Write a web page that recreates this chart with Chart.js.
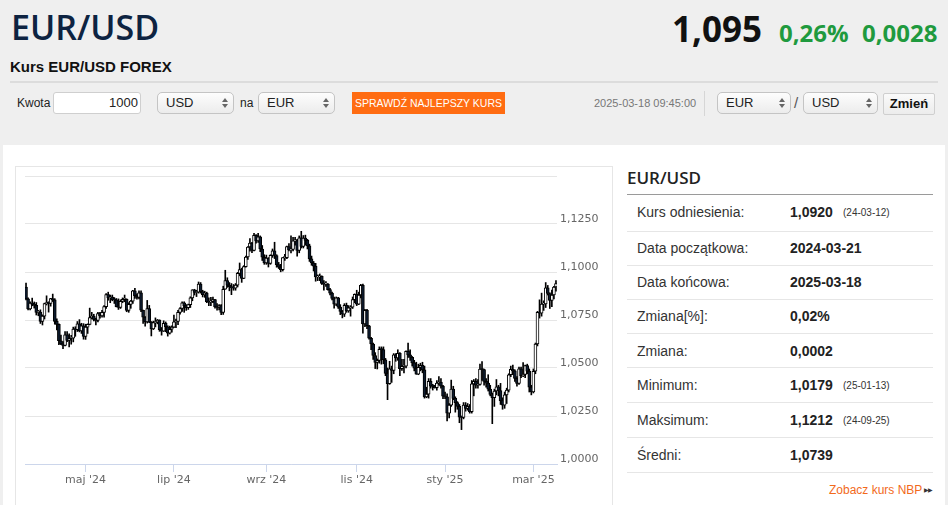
<!DOCTYPE html>
<html lang="pl">
<head>
<meta charset="utf-8">
<title>Kurs EUR/USD FOREX</title>
<script src="https://cdn.jsdelivr.net/npm/chart.js@4.4.1/dist/chart.umd.min.js"></script>
<style>
  html, body { margin: 0; padding: 0; }
  body { width: 948px; height: 505px; overflow: hidden; background: #efefef; position: relative;
         font-family: "Liberation Sans", Arial, sans-serif; color: #222; }
  .abs { position: absolute; white-space: nowrap; }
  #title { left: 11px; top: 4px; font: 600 34px/46px "Open Sans", sans-serif; color: #0d2341; }
  #subtitle { left: 10px; top: 58px; font: bold 15px/18px "Liberation Sans", Arial, sans-serif; color: #111; }
  #sep { left: 10px; top: 81px; width: 928px; height: 2px; background: #dcdcdc; }
  #price { left: 672px; top: 6px; font: bold 35px/46px "Open Sans", sans-serif; color: #111; }
  .chg { top: 16px; font: bold 24px/33px "Open Sans", sans-serif; color: #1f9a3e; }
  .lbl { font-size: 12px; line-height: 22px; top: 92px; color: #222; }
  .box { top: 92px; height: 20px; background: #fff; border: 1px solid #cfcfcf; border-radius: 3px;
         font-size: 13px; line-height: 20px; }
  .sel { top: 92px; height: 20px; border: 1px solid #c4c4c4; border-radius: 5px;
         background: linear-gradient(#fdfdfd, #ececec); font-size: 13px; line-height: 20px; }
  .sel span.t { position: absolute; left: 8px; top: 0; }
  .arr { position: absolute; right: 8px; top: 5px; width: 0; height: 0; }
  .arr:before { content: ""; position: absolute; left: -3px; top: 0; border-left: 3px solid transparent;
                border-right: 3px solid transparent; border-bottom: 4px solid #666; }
  .arr:after { content: ""; position: absolute; left: -3px; top: 6px; border-left: 3px solid transparent;
               border-right: 3px solid transparent; border-top: 4px solid #666; }
  #btn { left: 352px; top: 92px; width: 153px; height: 22px; background: #ff6c12; color: #fff;
         font-size: 10.5px; line-height: 22px; text-align: center; }
  #stamp { left: 594px; top: 92px; font-size: 11px; line-height: 22px; color: #777; }
  #vsep { left: 704px; top: 91px; width: 1px; height: 25px; background: #d6d6d6; }
  #zmien { left: 883px; top: 93px; width: 50px; height: 20px; border: 1px solid #cfcfcf; border-radius: 2px;
           background: linear-gradient(#fafafa, #ececec); font: bold 13px/20px "Liberation Sans", Arial, sans-serif;
           text-align: center; color: #111; }
  #panel { left: 3px; top: 145px; width: 942px; height: 370px; background: #fff; }
  #chartBox { left: 15px; top: 166px; width: 596px; height: 360px; border: 1px solid #e6e6e6; }
  #chart { position: absolute; left: 15px; top: 166px; }
  #side h2 { position: absolute; left: 627px; top: 166px; margin: 0; font: 600 17px/24px "Open Sans", sans-serif; color: #222; }
  #sideLine { left: 627px; top: 194px; width: 306px; height: 1px; background: #9a9a9a; }
  .row { left: 627px; width: 306px; height: 1px; background: #e6e6e6; }
  .k { left: 637px; font-size: 14px; line-height: 18px; color: #333; }
  .v { left: 790px; font-size: 14px; line-height: 18px; font-weight: bold; color: #222; }
  .d { left: 843px; font-size: 10px; line-height: 18px; color: #333; }
  #nbp { left: 829px; top: 482px; font-size: 12px; line-height: 16px; color: #f26a1b; }
  #nbpArr { left: 924px; top: 482px; font-size: 6px; line-height: 16px; color: #333; letter-spacing: -1px; }
</style>
</head>
<body>
<div id="title" class="abs">EUR/USD</div>
<div id="subtitle" class="abs">Kurs EUR/USD FOREX</div>
<div id="price" class="abs">1,095</div>
<div class="abs chg" style="left:779px">0,26%</div>
<div class="abs chg" style="left:862px">0,0028</div>
<div id="sep" class="abs"></div>

<div class="abs lbl" style="left:17px">Kwota</div>
<div class="abs box" style="left:53px;width:84px;text-align:right;padding-right:2px">1000</div>
<div class="abs sel" style="left:157px;width:75px"><span class="t">USD</span><span class="arr"></span></div>
<div class="abs lbl" style="left:240px">na</div>
<div class="abs sel" style="left:258px;width:75px"><span class="t">EUR</span><span class="arr"></span></div>
<div id="btn" class="abs">SPRAWDŹ NAJLEPSZY KURS</div>
<div id="stamp" class="abs">2025-03-18 09:45:00</div>
<div id="vsep" class="abs"></div>
<div class="abs sel" style="left:717px;width:72px"><span class="t">EUR</span><span class="arr"></span></div>
<div class="abs lbl" style="left:794px;font-size:15px;color:#555">/</div>
<div class="abs sel" style="left:803px;width:73px"><span class="t">USD</span><span class="arr"></span></div>
<div id="zmien" class="abs">Zmień</div>

<div id="panel" class="abs"></div>
<div id="chartBox" class="abs"></div>
<canvas id="chart" width="597" height="339"></canvas>

<div id="side">
  <h2>EUR/USD</h2>
  <div id="sideLine" class="abs"></div>
  <div class="abs k" style="top:203px">Kurs odniesienia:</div>
  <div class="abs v" style="top:203px">1,0920</div><div class="abs d" style="top:204px">(24-03-12)</div>
  <div class="abs row" style="top:231px"></div>
  <div class="abs k" style="top:239px">Data początkowa:</div>
  <div class="abs v" style="top:239px">2024-03-21</div>
  <div class="abs row" style="top:265px"></div>
  <div class="abs k" style="top:273px">Data końcowa:</div>
  <div class="abs v" style="top:273px">2025-03-18</div>
  <div class="abs row" style="top:299px"></div>
  <div class="abs k" style="top:307px">Zmiana[%]:</div>
  <div class="abs v" style="top:307px">0,02%</div>
  <div class="abs row" style="top:333px"></div>
  <div class="abs k" style="top:342px">Zmiana:</div>
  <div class="abs v" style="top:342px">0,0002</div>
  <div class="abs row" style="top:367px"></div>
  <div class="abs k" style="top:376px">Minimum:</div>
  <div class="abs v" style="top:376px">1,0179</div><div class="abs d" style="top:377px">(25-01-13)</div>
  <div class="abs row" style="top:402px"></div>
  <div class="abs k" style="top:411px">Maksimum:</div>
  <div class="abs v" style="top:411px">1,1212</div><div class="abs d" style="top:412px">(24-09-25)</div>
  <div class="abs row" style="top:437px"></div>
  <div class="abs k" style="top:446px">Średni:</div>
  <div class="abs v" style="top:446px">1,0739</div>
  <div class="abs row" style="top:472px"></div>
  <div id="nbp" class="abs">Zobacz kurs NBP</div>
  <div id="nbpArr" class="abs">▶▶</div>
</div>

<script>
// sesje (dni robocze) od 2024-03-21 do 2025-03-18
const startDate = '2024-03-21';
const endDate = '2025-03-18';

// etykiety osi X
const monthTicks = ['2024-05', '2024-07', '2024-09', '2024-11', '2025-01', '2025-03'];
const monthTickLabels = ["maj '24", "lip '24", "wrz '24", "lis '24", "sty '25", "mar '25"];

// osie Y
const yMin = 1.0, yMax = 1.15, yStep = 0.025;

// świece: otwarcie / maks / min / zamknięcie
const opens = [
  1.0922,1.0860,1.0808,1.0838,1.0831,1.0826,1.0790,
  1.0791,1.0742,1.0770,1.0835,1.0838,1.0837,1.0861,1.0855,1.0743,1.0727,1.0642,1.0625,1.0618,1.0673,1.0643,1.0655,1.0655,1.0703,1.0700,1.0730,1.0693,1.0719,
  1.0665,1.0713,1.0727,1.0762,1.0771,1.0753,1.0748,1.0783,1.0771,1.0790,1.0820,1.0882,1.0866,1.0870,1.0856,1.0855,1.0820,1.0816,1.0847,1.0858,1.0858,1.0800,1.0831,
  1.0848,1.0902,1.0877,1.0868,1.0892,1.0801,1.0765,1.0740,1.0810,1.0739,1.0703,1.0736,1.0740,1.0749,1.0700,1.0692,1.0733,1.0715,1.0682,1.0702,
  1.0713,1.0741,1.0742,1.0790,1.0810,1.0840,1.0825,1.0814,1.0830,1.0865,1.0907,1.0893,1.0895,1.0937,1.0898,1.0882,1.0890,1.0845,1.0843,1.0846,1.0856,1.0818,1.0816,
  1.0825,1.0789,1.0910,1.0955,1.0931,1.0923,1.0919,1.0916,1.0932,1.0993,1.1013,1.0967,1.1028,1.1078,1.1130,1.1151,1.1113,1.1191,1.1162,1.1183,1.1120,1.1077,
  1.1047,1.1072,1.1045,1.1087,1.1110,1.1086,1.1038,1.1025,1.1012,1.1075,1.1075,1.1133,1.1115,1.1117,1.1162,1.1163,1.1112,1.1178,1.1133,1.1177,1.1165,
  1.1136,1.1068,1.1047,1.1031,1.0975,1.0975,1.0978,1.0941,1.0937,1.0937,1.0908,1.0890,1.0862,1.0832,1.0866,1.0817,1.0795,1.0780,1.0827,1.0797,1.0814,1.0817,1.0856,
  1.0884,1.0833,1.0880,1.0930,1.0730,1.0800,1.0720,1.0655,1.0625,1.0565,1.0529,1.0540,1.0597,1.0596,1.0543,1.0472,1.0418,1.0496,1.0487,1.0569,1.0553,
  1.0577,1.0497,1.0509,1.0510,1.0587,1.0568,1.0555,1.0527,1.0499,1.0468,1.0503,1.0514,1.0490,1.0350,1.0364,1.0430,1.0406,1.0404,1.0397,1.0422,1.0427,1.0406,
  1.0353,1.0350,1.0265,1.0307,1.0390,1.0342,1.0320,1.0300,1.0244,1.0243,1.0307,1.0290,1.0300,1.0272,1.0417,1.0430,1.0410,1.0415,1.0495,1.0492,1.0430,1.0421,1.0390,
  1.0362,1.0345,1.0380,1.0402,1.0383,1.0330,1.0306,1.0360,1.0385,1.0465,1.0493,1.0485,1.0446,1.0420,1.0496,1.0460,1.0466,1.0512,1.0484,1.0400,
  1.0376,1.0483,1.0625,1.0790,1.0786,1.0833,1.0834,1.0918,1.0888,1.0852,1.0880,1.0922
];
const highs = [
  1.0942,1.0866,1.0845,1.0864,1.0844,1.0841,1.0800,
  1.0803,1.0777,1.0838,1.0876,1.0845,1.0863,1.0885,1.0861,1.0756,1.0730,1.0672,1.0637,1.0690,1.0690,1.0678,1.0670,1.0713,1.0715,1.0742,1.0752,1.0733,1.0731,
  1.0728,1.0730,1.0812,1.0790,1.0780,1.0760,1.0790,1.0790,1.0800,1.0825,1.0887,1.0895,1.0880,1.0880,1.0867,1.0862,1.0860,1.0855,1.0865,1.0880,1.0860,1.0840,1.0852,
  1.0905,1.0915,1.0886,1.0902,1.0902,1.0802,1.0768,1.0852,1.0826,1.0742,1.0744,1.0761,1.0753,1.0751,1.0711,1.0746,1.0740,1.0720,1.0718,1.0720,
  1.0776,1.0755,1.0801,1.0815,1.0844,1.0845,1.0830,1.0833,1.0871,1.0908,1.0910,1.0905,1.0948,1.0945,1.0905,1.0900,1.0895,1.0865,1.0868,1.0870,1.0858,1.0835,1.0830,
  1.0830,1.0926,1.1009,1.0970,1.0945,1.0940,1.0935,1.0940,1.0998,1.1047,1.1020,1.1033,1.1083,1.1133,1.1174,1.1154,1.1201,1.1195,1.1202,1.1188,1.1138,1.1090,
  1.1088,1.1075,1.1090,1.1120,1.1155,1.1090,1.1050,1.1040,1.1075,1.1092,1.1135,1.1148,1.1189,1.1180,1.1180,1.1170,1.1188,1.1212,1.1190,1.1192,1.1170,
  1.1145,1.1083,1.1055,1.1045,1.0985,1.0990,1.0980,1.0955,1.0950,1.0940,1.0915,1.0895,1.0870,1.0870,1.0868,1.0830,1.0800,1.0835,1.0838,1.0825,1.0825,1.0870,1.0886,
  1.0905,1.0895,1.0936,1.0937,1.0805,1.0805,1.0722,1.0660,1.0630,1.0580,1.0547,1.0610,1.0610,1.0610,1.0550,1.0500,1.0535,1.0510,1.0575,1.0575,1.0595,
  1.0580,1.0545,1.0545,1.0590,1.0630,1.0595,1.0560,1.0540,1.0530,1.0520,1.0525,1.0530,1.0510,1.0400,1.0445,1.0445,1.0415,1.0410,1.0435,1.0455,1.0445,1.0410,
  1.0375,1.0365,1.0315,1.0437,1.0405,1.0350,1.0325,1.0310,1.0250,1.0320,1.0320,1.0315,1.0310,1.0435,1.0440,1.0445,1.0440,1.0520,1.0533,1.0495,1.0445,1.0465,1.0410,
  1.0370,1.0390,1.0440,1.0410,1.0420,1.0345,1.0375,1.0395,1.0470,1.0510,1.0515,1.0490,1.0455,1.0505,1.0505,1.0528,1.0515,1.0520,1.0495,1.0410,
  1.0495,1.0630,1.0795,1.0855,1.0890,1.0850,1.0945,1.0930,1.0892,1.0906,1.0925,1.0955
];
const lows = [
  1.0855,1.0802,1.0803,1.0824,1.0812,1.0776,1.0772,
  1.0732,1.0724,1.0755,1.0828,1.0791,1.0822,1.0846,1.0728,1.0698,1.0622,1.0622,1.0601,1.0615,1.0637,1.0610,1.0624,1.0636,1.0665,1.0690,1.0688,1.0680,1.0650,
  1.0649,1.0680,1.0725,1.0755,1.0745,1.0724,1.0740,1.0760,1.0765,1.0765,1.0810,1.0853,1.0840,1.0850,1.0836,1.0818,1.0805,1.0810,1.0840,1.0845,1.0793,1.0790,1.0811,
  1.0836,1.0863,1.0859,1.0860,1.0794,1.0732,1.0718,1.0734,1.0736,1.0667,1.0700,1.0714,1.0730,1.0691,1.0671,1.0690,1.0689,1.0666,1.0677,1.0686,
  1.0710,1.0710,1.0726,1.0780,1.0795,1.0790,1.0800,1.0805,1.0815,1.0850,1.0880,1.0872,1.0890,1.0890,1.0870,1.0868,1.0840,1.0825,1.0825,1.0840,1.0812,1.0801,1.0802,
  1.0778,1.0779,1.0910,1.0920,1.0902,1.0882,1.0905,1.0905,1.0922,1.0980,1.0946,1.0965,1.1025,1.1065,1.1108,1.1101,1.1110,1.1150,1.1154,1.1106,1.1060,1.1040,
  1.1040,1.1026,1.1040,1.1076,1.1070,1.1025,1.1018,1.1001,1.1005,1.1060,1.1070,1.1110,1.1100,1.1110,1.1140,1.1083,1.1100,1.1125,1.1125,1.1140,1.1120,
  1.1055,1.1035,1.1005,1.0952,1.0955,1.0955,1.0935,1.0905,1.0925,1.0905,1.0880,1.0855,1.0812,1.0825,1.0810,1.0778,1.0761,1.0768,1.0790,1.0790,1.0770,1.0810,1.0840,
  1.0825,1.0830,1.0865,1.0682,1.0715,1.0705,1.0650,1.0595,1.0545,1.0497,1.0495,1.0525,1.0520,1.0522,1.0460,1.0335,1.0415,1.0425,1.0470,1.0535,1.0540,
  1.0460,1.0487,1.0475,1.0500,1.0555,1.0540,1.0510,1.0485,1.0467,1.0465,1.0485,1.0475,1.0343,1.0345,1.0343,1.0395,1.0385,1.0395,1.0385,1.0410,1.0395,1.0340,
  1.0340,1.0224,1.0240,1.0300,1.0335,1.0270,1.0285,1.0215,1.0179,1.0235,1.0275,1.0280,1.0265,1.0265,1.0355,1.0395,1.0395,1.0410,1.0435,1.0410,1.0400,1.0380,1.0355,
  1.0210,1.0300,1.0360,1.0355,1.0310,1.0285,1.0290,1.0315,1.0375,1.0455,1.0465,1.0430,1.0405,1.0415,1.0450,1.0455,1.0450,1.0470,1.0375,1.0360,
  1.0370,1.0470,1.0615,1.0760,1.0770,1.0800,1.0815,1.0880,1.0810,1.0820,1.0860,1.0900
];
const closes = [
  1.0860,1.0808,1.0838,1.0831,1.0826,1.0790,1.0791,
  1.0742,1.0770,1.0835,1.0838,1.0837,1.0861,1.0855,1.0743,1.0727,1.0642,1.0625,1.0618,1.0673,1.0643,1.0655,1.0655,1.0703,1.0700,1.0730,1.0693,1.0719,1.0665,
  1.0713,1.0727,1.0762,1.0771,1.0753,1.0748,1.0783,1.0771,1.0790,1.0820,1.0882,1.0866,1.0870,1.0856,1.0855,1.0820,1.0816,1.0847,1.0858,1.0858,1.0800,1.0831,1.0848,
  1.0902,1.0877,1.0868,1.0892,1.0801,1.0765,1.0740,1.0810,1.0739,1.0703,1.0736,1.0740,1.0749,1.0700,1.0692,1.0733,1.0715,1.0682,1.0702,1.0713,
  1.0741,1.0742,1.0790,1.0810,1.0840,1.0825,1.0814,1.0830,1.0865,1.0907,1.0893,1.0895,1.0937,1.0898,1.0882,1.0890,1.0845,1.0843,1.0846,1.0856,1.0818,1.0816,1.0825,
  1.0789,1.0910,1.0955,1.0931,1.0923,1.0919,1.0916,1.0932,1.0993,1.1013,1.0967,1.1028,1.1078,1.1130,1.1151,1.1113,1.1191,1.1162,1.1183,1.1120,1.1077,1.1047,
  1.1072,1.1045,1.1087,1.1110,1.1086,1.1038,1.1025,1.1012,1.1075,1.1075,1.1133,1.1115,1.1117,1.1162,1.1163,1.1112,1.1178,1.1133,1.1177,1.1165,1.1136,
  1.1068,1.1047,1.1031,1.0975,1.0975,1.0978,1.0941,1.0937,1.0937,1.0908,1.0890,1.0862,1.0832,1.0866,1.0817,1.0795,1.0780,1.0827,1.0797,1.0814,1.0817,1.0856,1.0884,
  1.0833,1.0880,1.0930,1.0730,1.0800,1.0720,1.0655,1.0625,1.0565,1.0529,1.0540,1.0597,1.0596,1.0543,1.0472,1.0418,1.0496,1.0487,1.0569,1.0553,1.0577,
  1.0497,1.0509,1.0510,1.0587,1.0568,1.0555,1.0527,1.0499,1.0468,1.0503,1.0514,1.0490,1.0350,1.0364,1.0430,1.0406,1.0404,1.0397,1.0422,1.0427,1.0406,1.0353,
  1.0350,1.0265,1.0307,1.0390,1.0342,1.0320,1.0300,1.0244,1.0243,1.0307,1.0290,1.0300,1.0272,1.0417,1.0430,1.0410,1.0415,1.0495,1.0492,1.0430,1.0421,1.0390,1.0362,
  1.0345,1.0380,1.0402,1.0383,1.0330,1.0306,1.0360,1.0385,1.0465,1.0493,1.0485,1.0446,1.0420,1.0496,1.0460,1.0466,1.0512,1.0484,1.0400,1.0376,
  1.0483,1.0625,1.0790,1.0786,1.0833,1.0834,1.0918,1.0888,1.0852,1.0880,1.0922,1.0940
];

const upColor = '#ffffff';
const downColor = '#0d1b2e';

// lista dni roboczych = kategorie osi X
const dates = [];
for (let d = new Date(startDate + 'T00:00:00Z'); d <= new Date(endDate + 'T00:00:00Z'); d.setUTCDate(d.getUTCDate() + 1)) {
  const wd = d.getUTCDay();
  if (wd !== 0 && wd !== 6) dates.push(d.toISOString().slice(0, 10));
}
const tickIdx = monthTicks.map(m => dates.findIndex(d => d.startsWith(m)));

const fmt = v => v.toFixed(4).replace('.', ',');

const ctx = document.getElementById('chart').getContext('2d');
new Chart(ctx, {
  type: 'bar',
  data: {
    labels: dates,
    datasets: [
      {
        // korpusy świec
        data: opens.map((o, i) => [o, closes[i]]),
        order: 1,
        grouped: false,
        barThickness: 3,
        borderWidth: 1,
        borderSkipped: false,
        minBarLength: 1,
        borderColor: '#000',
        backgroundColor: c => closes[c.dataIndex] >= opens[c.dataIndex] ? upColor : downColor
      },
      {
        // knoty
        data: lows.map((l, i) => [l, highs[i]]),
        order: 2,
        grouped: false,
        barThickness: 1,
        borderWidth: 0,
        backgroundColor: '#000'
      }
    ]
  },
  options: {
    responsive: false,
    animation: false,
    layout: { padding: { left: 10, top: 10, right: 0, bottom: 0 } },
    plugins: { legend: { display: false }, tooltip: { enabled: false } },
    scales: {
      x: {
        type: 'category',
        offset: true,
        grid: { display: true, drawOnChartArea: false, drawTicks: true, tickLength: 8, color: '#ccd6eb', offset: false },
        border: { display: true, color: '#ccd6eb' },
        ticks: {
          autoSkip: false, maxRotation: 0, color: '#666', padding: 2,
          font: { family: 'DejaVu Sans', size: 11 },
          callback: v => monthTickLabels[tickIdx.indexOf(v)] ?? ''
        },
        afterBuildTicks: s => { s.ticks = tickIdx.map(v => ({ value: v })); },
        afterFit: s => { s.height = 41; }
      },
      y: {
        type: 'linear',
        position: 'right',
        min: yMin,
        max: yMax,
        grid: { color: '#e6e6e6', drawTicks: false },
        border: { display: false },
        ticks: {
          stepSize: yStep, color: '#666', padding: 3, labelOffset: -5,
          font: { family: 'DejaVu Sans', size: 11 },
          callback: v => Math.abs(v - yMax) < 1e-9 ? '' : fmt(v)
        },
        afterFit: s => { s.width = 55; }
      }
    }
  }
});
</script>
</body>
</html>
